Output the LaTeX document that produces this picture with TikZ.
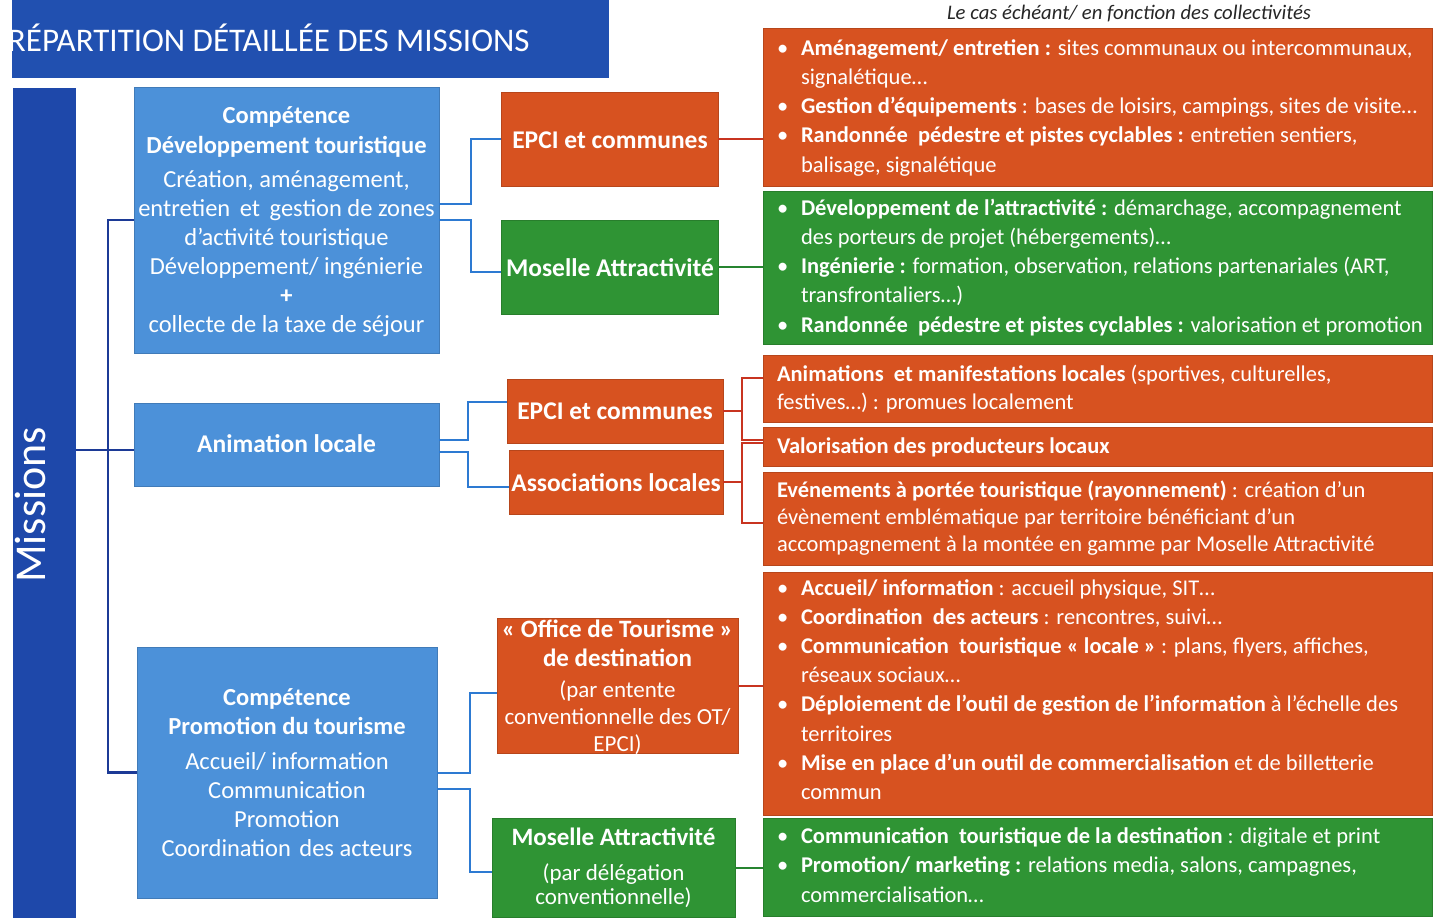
\documentclass[tikz,border=0pt]{standalone}
\usepackage{fontspec}
\setmainfont{Carlito}
\definecolor{tblue}{RGB}{33,80,176}
\definecolor{mblue}{RGB}{30,72,170}
\definecolor{lblue}{RGB}{76,145,217}
\definecolor{orng}{RGB}{215,82,32}
\definecolor{grn}{RGB}{47,148,52}
\definecolor{navy}{RGB}{28,58,150}
\definecolor{cblue}{RGB}{45,122,210}
\definecolor{cred}{RGB}{200,52,32}
\definecolor{cgrn}{RGB}{38,132,48}
\newcommand{\fA}{\fontsize{24.5}{29}\selectfont}
\newcommand{\fM}{\fontsize{25.5}{29}\selectfont}
\newcommand{\fR}{\fontsize{22.5}{29.3}\selectfont}
\newcommand{\bulx}{\makebox[24pt][l]{•}}
\newcommand{\indx}{\hspace*{24pt}}
\begin{document}
\begin{tikzpicture}[x=1pt,y=-1pt,
  bx/.style={inner sep=0pt, outer sep=0pt, line width=0.8pt},
  bbox/.style={bx, fill=lblue, draw=lblue!85!black},
  obox/.style={bx, fill=orng, draw=orng!85!black},
  gbox/.style={bx, fill=grn, draw=grn!85!black},
  tx/.style={inner sep=0pt, outer sep=0pt, text=white},
  cl/.style={draw=navy, line width=2.2pt},
  cb/.style={draw=cblue, line width=2pt},
  co/.style={draw=cred, line width=2pt},
  cg/.style={draw=cgrn, line width=2pt}]
\useasboundingbox (0,0) rectangle (1438,922);
\fill[white] (0,0) rectangle (1438,922);

% title and side bar
\node[bx, fill=tblue, minimum width=597pt, minimum height=78pt] (title) at (310.5,39) {};
\begin{scope}
\clip (12,0) rectangle (609,78);
\node[tx, anchor=base west, font=\fontsize{33}{39}\selectfont] (titlet) at (8,51) {RÉPARTITION DÉTAILLÉE DES MISSIONS};
\end{scope}
\node[bx, fill=mblue, minimum width=63pt, minimum height=830pt] (mis) at (44.5,503) {};
\node[tx, rotate=90, anchor=base, font=\fontsize{44}{50}\selectfont] (mist) at (45,505) {Missions};

% blue boxes
\node[bbox, minimum width=305pt, minimum height=266pt] (b1) at (286.5,220) {};
\node[bbox, minimum width=305pt, minimum height=83pt] (b2) at (286.5,444.5) {};
\node[bbox, minimum width=300pt, minimum height=251pt] (b3) at (287,772.5) {};

% middle boxes
\node[obox, minimum width=217pt, minimum height=94pt] (e1) at (609.5,139) {};
\node[gbox, minimum width=217pt, minimum height=94pt] (g1) at (609.5,267) {};
\node[obox, minimum width=216pt, minimum height=64pt] (e2) at (615,411) {};
\node[obox, minimum width=214pt, minimum height=64pt] (a2) at (616,482) {};
\node[obox, minimum width=241pt, minimum height=135pt] (ot) at (617.5,685.5) {};
\node[gbox, minimum width=243pt, minimum height=99pt] (g2) at (613.5,867.5) {};

% right boxes
\node[obox, minimum width=669pt, minimum height=158pt] (r1) at (1097.5,107) {};
\node[gbox, minimum width=669pt, minimum height=153pt] (r2) at (1097.5,267.5) {};
\node[obox, minimum width=669pt, minimum height=67pt] (r3) at (1097.5,388.5) {};
\node[obox, minimum width=669pt, minimum height=39pt] (r4) at (1097.5,446.5) {};
\node[obox, minimum width=669pt, minimum height=93pt] (r5) at (1097.5,518.5) {};
\node[obox, minimum width=669pt, minimum height=243pt] (r6) at (1097.5,693.5) {};
\node[gbox, minimum width=669pt, minimum height=98pt] (r7) at (1097.5,867) {};

% connectors left
\coordinate (lv) at (108,0);
\coordinate (hj) at (0,450);
\draw[cl] (mis.east |- hj) -- (b2.west |- hj);
\draw[cl] (b1.west) -| (lv |- b3.west) -- (b3.west);

% connectors middle
\draw[cb] ([yshift=16pt]b1.east) -- ++(32,0) |- (e1.west);
\draw[cb] (b1.east) -- ++(32,0) |- ([yshift=-5pt]g1.west);
\draw[cb] ([yshift=4.5pt]b2.east) -- ++(29,0) |- ([yshift=9pt]e2.west);
\draw[cb] ([yshift=-7.5pt]b2.east) -- ++(29,0) |- ([yshift=-5pt]a2.west);
\draw[cb] (b3.east) -- ++(33,0) |- ([yshift=-7.5pt]ot.west);
\draw[cb] ([yshift=-16.5pt]b3.east) -- ++(33,0) |- ([yshift=-4.5pt]g2.west);

% connectors right
\coordinate (vx) at (742,0);
\coordinate (r3a) at ([yshift=10.5pt]r3.west);
\coordinate (r4a) at ([yshift=6.5pt]r4.west);
\coordinate (r4b) at ([yshift=3.5pt]r4.west);
\coordinate (r5a) at ([yshift=-4.5pt]r5.west);
\draw[co] (e1.east) -- (r1.west |- e1.east);
\draw[cg] (g1.east) -- (r2.west |- g1.east);
\draw[co] (e2.east) -- (vx |- e2.east);
\draw[co] (r3a) -| (vx |- r4a) -- (r4a);
\draw[co] (a2.east) -- (vx |- a2.east);
\draw[co] (r4b) -| (vx |- r5a) -- (r5a);
\draw[co] (ot.east) -- (r6.west |- ot.east);
\draw[cg] (g2.east) -- (r7.west |- g2.east);

% blue box texts
\node[tx, anchor=north, align=center, font=\fA] (b1t) at (286.5,105) {\rule{0pt}{18pt}\textbf{Compétence}\\[1pt]
\textbf{Développement touristique}\\[5pt]
Création, aménagement,\\
entretien\hspace{4pt} et\hspace{4pt} gestion de zones\\
d'activité touristique\\
Développement/ ingénierie\\
\textbf{+}\\
collecte de la taxe de séjour};
\node[tx, anchor=base, font=\fM\bfseries] (b2t) at (286.5,452) {Animation locale};
\node[tx, anchor=north, align=center, font=\fA] (b3t) at (287,687) {\rule{0pt}{18pt}\textbf{Compétence}\\
\textbf{Promotion du tourisme}\\[6pt]
Accueil/ information\\
Communication\\
Promotion\\
Coordination\hspace{3pt} des acteurs};

% middle texts
\node[tx, anchor=base, font=\fM\bfseries] (e1t) at (610,148) {EPCI et communes};
\node[tx, anchor=base, font=\fM\bfseries] (g1t) at (610,276) {Moselle Attractivité};
\node[tx, anchor=base, font=\fM\bfseries] (e2t) at (615,419) {EPCI et communes};
\node[tx, anchor=base, font=\fM\bfseries] (a2t) at (616,491) {Associations locales};
\node[tx, anchor=north, align=center, font=\fontsize{23}{27}\selectfont] (ott) at (617.5,619) {\rule{0pt}{18pt}\textbf{\fontsize{25}{27}\selectfont « Office de Tourisme »}\\[2pt]
\textbf{\fontsize{25}{27}\selectfont de destination}\\[4pt]
(par entente\\
conventionnelle des OT/\\
EPCI)};
\node[tx, anchor=north, align=center, font=\fontsize{23}{27}\selectfont] (g2t) at (613.5,827) {\rule{0pt}{18pt}\textbf{\fontsize{25}{27}\selectfont Moselle Attractivité}\\[8pt]
(par délégation\\[-3pt]
conventionnelle)};

% note
\node[anchor=base, inner sep=0pt, font=\fontsize{20.7}{22}\selectfont\itshape, text=black!85] (note) at (1129,19) {Le cas échéant/ en fonction des collectivités};

% right texts
\node[tx, anchor=north west, align=left, font=\fR] (r1t) at (777,37) {\rule{0pt}{18pt}\bulx\textbf{Aménagement/ entretien :} sites communaux ou intercommunaux,\\
\indx signalétique…\\
\bulx\textbf{Gestion d’équipements} : bases de loisirs, campings, sites de visite…\\
\bulx\textbf{Randonnée\ \ pédestre et pistes cyclables :} entretien sentiers,\\
\indx balisage, signalétique};
\node[tx, anchor=north west, align=left, font=\fR] (r2t) at (777,197) {\rule{0pt}{18pt}\bulx\textbf{Développement de l’attractivité :} démarchage, accompagnement\\
\indx des porteurs de projet (hébergements)…\\
\bulx\textbf{Ingénierie :} formation, observation, relations partenariales (ART,\\
\indx transfrontaliers…)\\
\bulx\textbf{Randonnée\ \ pédestre et pistes cyclables :} valorisation et promotion};
\node[tx, anchor=north west, align=left, font=\fontsize{22.5}{28}\selectfont] (r3t) at (777,363) {\rule{0pt}{18pt}\textbf{Animations\ \ et manifestations locales} (sportives, culturelles,\\
festives…) : promues localement};
\node[tx, anchor=base west, font=\fontsize{22.5}{28}\selectfont\bfseries] (r4t) at (777,453) {Valorisation des producteurs locaux};
\node[tx, anchor=north west, align=left, font=\fontsize{22.5}{27}\selectfont] (r5t) at (777,479) {\rule{0pt}{18pt}\textbf{Evénements à portée touristique (rayonnement)} : création d’un\\
évènement emblématique par territoire bénéficiant d’un\\
accompagnement à la montée en gamme par Moselle Attractivité};
\node[tx, anchor=north west, align=left, font=\fontsize{22.5}{29.2}\selectfont] (r6t) at (777,577) {\rule{0pt}{18pt}\bulx\textbf{Accueil/ information} : accueil physique, SIT…\\
\bulx\textbf{Coordination\ \ des acteurs} : rencontres, suivi…\\
\bulx\textbf{Communication\ \ touristique « locale »} : plans, flyers, affiches,\\
\indx réseaux sociaux…\\
\bulx\textbf{Déploiement de l’outil de gestion de l’information} à l’échelle des\\
\indx territoires\\
\bulx\textbf{Mise en place d’un outil de commercialisation} et de billetterie\\
\indx commun};
\node[tx, anchor=north west, align=left, font=\fontsize{22.5}{29.5}\selectfont] (r7t) at (777,825) {\rule{0pt}{18pt}\bulx\textbf{Communication\ \ touristique de la destination} : digitale et print\\
\bulx\textbf{Promotion/ marketing :} relations media, salons, campagnes,\\
\indx commercialisation…};
\end{tikzpicture}
\end{document}
